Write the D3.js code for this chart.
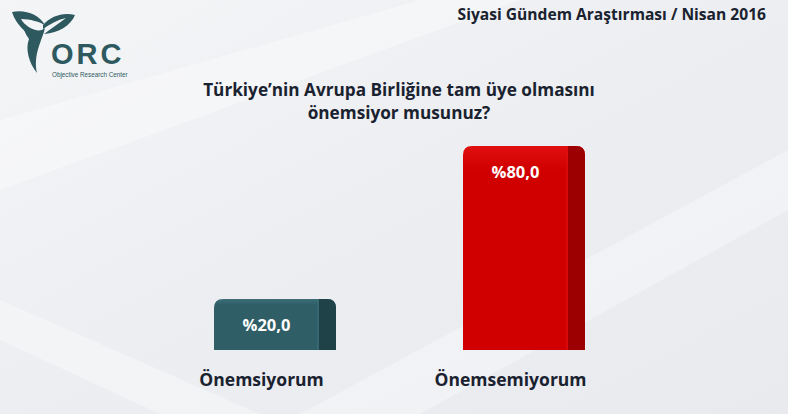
<!DOCTYPE html>
<html><head><meta charset="utf-8">
<script src="https://cdn.jsdelivr.net/npm/d3@7"></script>
<style>html,body{margin:0;padding:0;overflow:hidden;background:#eef0f3}</style>
</head><body>
<script>
const categories = ["Önemsiyorum", "Önemsemiyorum"];
const values = [20.0, 80.0];
const valueLabels = ["%20,0", "%80,0"];
const titleLines = ["Türkiye’nin Avrupa Birliğine tam üye olmasını", "önemsiyor musunuz?"];
const headerText = "Siyasi Gündem Araştırması / Nisan 2016";

const W = 788, H = 414;
const font = "'Open Sans', 'Noto Sans', sans-serif";
const svg = d3.select("body").append("svg").attr("width", W).attr("height", H);
const defs = svg.append("defs");

const bg = defs.append("linearGradient").attr("id","bg").attr("x1","0").attr("y1","0").attr("x2","1").attr("y2","1");
bg.append("stop").attr("offset","0").attr("stop-color","#f4f5f7");
bg.append("stop").attr("offset","0.5").attr("stop-color","#eceef1");
bg.append("stop").attr("offset","1").attr("stop-color","#e8eaee");
svg.append("rect").attr("width",W).attr("height",H).attr("fill","url(#bg)");
[[0,120,420,0,520,0,0,190],[300,414,788,150,788,210,420,414],[0,300,260,414,160,414,0,340]].forEach(p=>{
  svg.append("polygon").attr("points",[[p[0],p[1]],[p[2],p[3]],[p[4],p[5]],[p[6],p[7]]].join(" "))
    .attr("fill","#ffffff").attr("opacity",0.35);
});

// logo
const logo = svg.append("g").attr("fill","#2e5a5f");
logo.append("path").attr("d","M12,12 C24,9 39,14 45,25 C40,22 30,19 21,19 C24,25 30,31 34,37 C27,34 16,25 12,12 Z");
logo.append("path").attr("d","M43,25 C51,16 63,12 75,15 C71,25 59,33 44,34 C51,29 59,23 66,18 C57,20 50,24 43,29 Z");
logo.append("path").attr("d","M22,21 C30,30 40,33 45,28 C42,41 33,54 37,73 C29,63 25,49 29,39 C25,34 23,28 22,21 Z");
logo.append("text").attr("x",51).attr("y",64).attr("font-family","'Liberation Sans', Arial, sans-serif")
  .attr("font-weight","bold").attr("font-size",29).attr("letter-spacing",3).text("ORC");
logo.append("text").attr("x",52).attr("y",77).attr("font-family","'Liberation Sans', Arial, sans-serif")
  .attr("font-size",6.3).text("Objective Research Center");

// header
svg.append("text").attr("x",766).attr("y",20).attr("text-anchor","end")
  .attr("font-family",font).attr("font-weight","bold").attr("font-size",15.6).attr("fill","#1a2230").text(headerText);

// title
svg.append("g").selectAll("text").data(titleLines).join("text")
  .attr("x",399).attr("y",(d,i)=>96+i*23).attr("text-anchor","middle")
  .attr("font-family",font).attr("font-weight","bold").attr("font-size",17.2).attr("fill","#1a2230").text(d=>d);

const x = d3.scaleBand().domain(categories).range([89.5,709.5]).paddingInner(0.51).paddingOuter(0.5);
const y = d3.scaleLinear().domain([0,100]).range([350,95]);

const colors = [{front:"#2f5e67", side:"#1f4148", hi:"#3d6f78"},{front:"#d00000", side:"#9c0000", hi:"#e01010"}];

function barPath(x0, x1, top, bottom, r){
  return `M${x0},${bottom} L${x0},${top+r} Q${x0},${top} ${x0+r},${top} L${x1-r},${top} Q${x1},${top} ${x1},${top+r} L${x1},${bottom} Z`;
}

const bars = svg.append("g");
categories.forEach((c,i)=>{
  const x0 = x(c), bw = x.bandwidth(), x1 = x0+bw;
  const top = y(values[i]), bottom = y(0);
  const sideW = bw*0.14;
  const g = bars.append("g");
  const clipId = "clip"+i;
  defs.append("clipPath").attr("id",clipId).append("path").attr("d",barPath(x0,x1,top,bottom,9));
  const gr = defs.append("linearGradient").attr("id","g"+i).attr("x1","0").attr("y1","0").attr("x2","0").attr("y2","1");
  gr.append("stop").attr("offset","0").attr("stop-color",colors[i].hi);
  gr.append("stop").attr("offset","0.12").attr("stop-color",colors[i].front);
  gr.append("stop").attr("offset","1").attr("stop-color",colors[i].front);
  const inner = g.append("g").attr("clip-path",`url(#${clipId})`);
  inner.append("rect").attr("x",x0).attr("y",top).attr("width",bw).attr("height",bottom-top).attr("fill",`url(#g${i})`);
  inner.append("rect").attr("x",x1-sideW).attr("y",top).attr("width",sideW).attr("height",bottom-top).attr("fill",colors[i].side);
  inner.append("rect").attr("x",x1-sideW-2).attr("y",top).attr("width",2).attr("height",bottom-top).attr("fill",colors[i].hi).attr("opacity",0.6);
  g.append("text").attr("x",x0+(bw-sideW)/2).attr("y",top+32).attr("text-anchor","middle")
    .attr("font-family",font).attr("font-weight","bold").attr("font-size",16.5).attr("fill","#ffffff").text(valueLabels[i]);
  g.append("text").attr("x",x0+bw*0.39).attr("y",386).attr("text-anchor","middle")
    .attr("font-family",font).attr("font-weight","bold").attr("font-size",17.5).attr("fill","#1a2230").text(c);
});
</script>
</body></html>
